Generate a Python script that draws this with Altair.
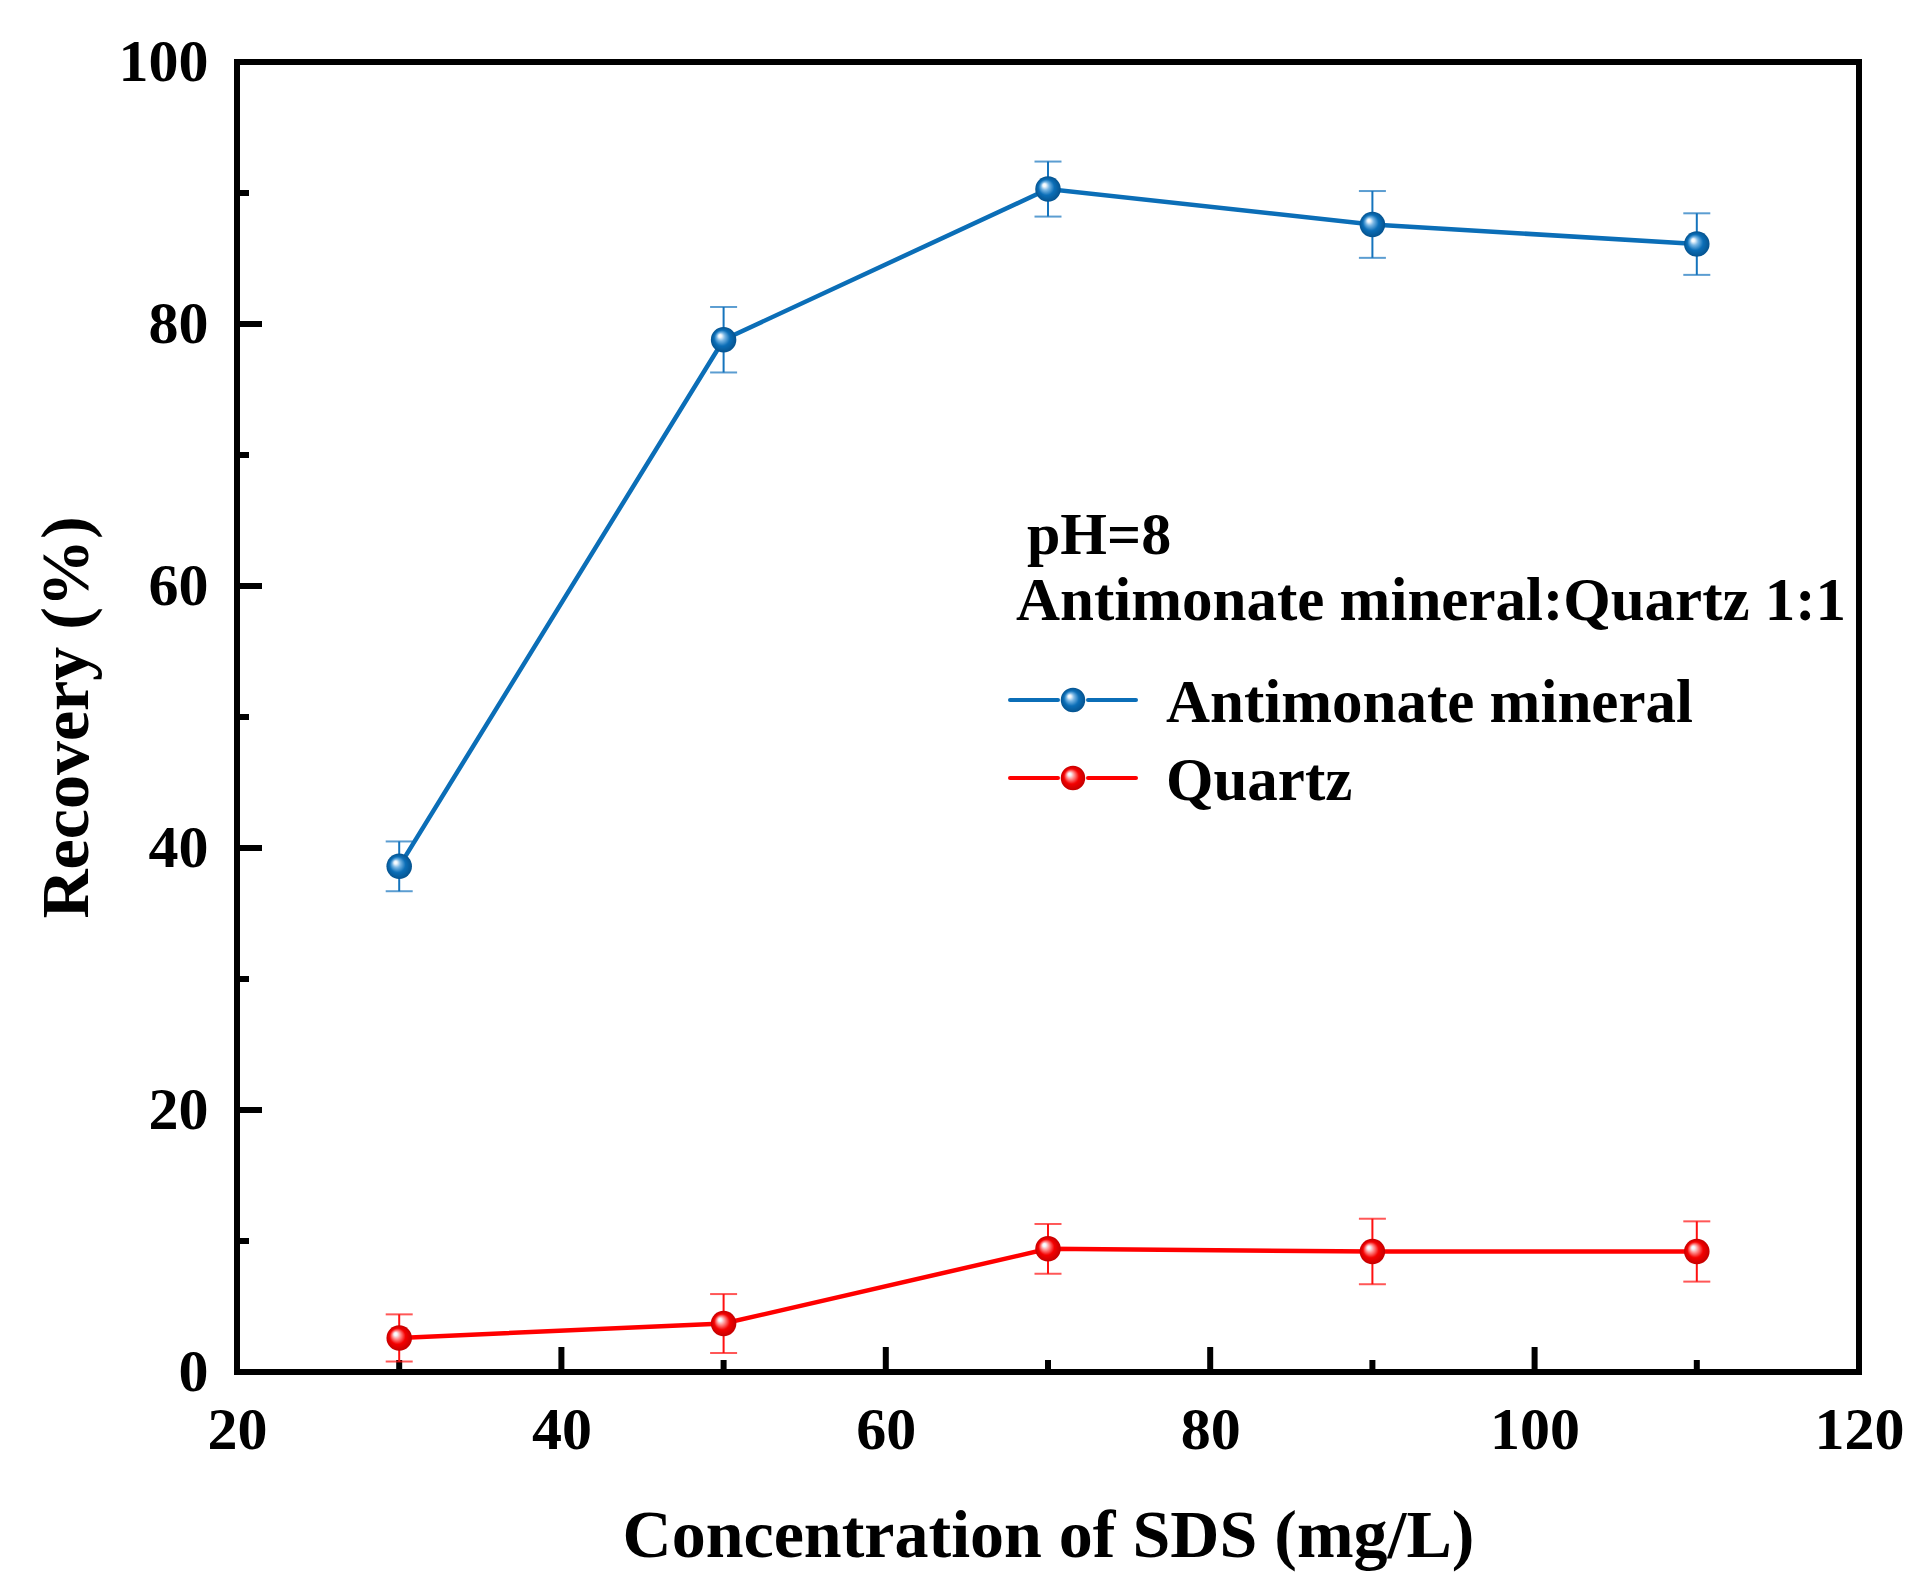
import altair as alt
import pandas as pd

# ---- data ----
X = [30, 50, 70, 90, 110]
ANT = [38.6, 78.8, 90.3, 87.6, 86.1]
ANT_ERR = [1.9, 2.5, 2.1, 2.55, 2.35]
QTZ = [2.6, 3.7, 9.4, 9.2, 9.2]
QTZ_ERR = [1.8, 2.25, 1.9, 2.5, 2.3]
SERIES = ["Antimonate mineral", "Quartz"]
ANNOT = ["pH=8", "Antimonate mineral:Quartz 1:1"]
X_TICKS = [20, 40, 60, 80, 100, 120]
X_MINOR = [30, 50, 70, 90, 110]
Y_TICKS = [0, 20, 40, 60, 80, 100]
Y_MINOR = [10, 30, 50, 70, 90]
X_TITLE = "Concentration of SDS (mg/L)"
Y_TITLE = "Recovery (%)"

W, H = 1622, 1310
FONT = "Liberation Serif"

df = pd.DataFrame({
    "x": X + X,
    "y": ANT + QTZ,
    "err": ANT_ERR + QTZ_ERR,
    "series": [SERIES[0]] * len(X) + [SERIES[1]] * len(X),
})

xs = alt.Scale(domain=[20, 120], nice=False, zero=False)
ys = alt.Scale(domain=[0, 100], nice=False, zero=False)

xaxis = alt.Axis(values=X_TICKS, domain=False, ticks=False, tickSize=0, grid=False,
                 labelFont=FONT, labelFontSize=60, labelFontWeight="bold", labelColor="black",
                 labelPadding=76, labelBaseline="alphabetic", labelFlush=False, labelOverlap=False,
                 title=X_TITLE, titleFont=FONT, titleFontSize=68, titleFontWeight="bold",
                 titleColor="black", titleX=W / 2, titleY=184, titleBaseline="alphabetic",
                 titleAlign="center")
yaxis = alt.Axis(values=Y_TICKS, domain=False, ticks=False, tickSize=0, grid=False,
                 labelFont=FONT, labelFontSize=60, labelFontWeight="bold", labelColor="black",
                 labelPadding=29, labelBaseline="middle", labelFlush=False, labelOverlap=False,
                 title=Y_TITLE, titleFont=FONT, titleFontSize=68, titleFontWeight="bold",
                 titleColor="black", titleX=-150, titleY=H / 2, titleAngle=270,
                 titleBaseline="alphabetic", titleAlign="center")


def xenc(field="x"):
    return alt.X(f"{field}:Q", scale=xs, axis=xaxis)


def yenc(field="y"):
    return alt.Y(f"{field}:Q", scale=ys, axis=yaxis)


def grad(light, base, dark):
    return {"gradient": "radial", "x1": 0.34, "y1": 0.33, "r1": 0.0,
            "x2": 0.5, "y2": 0.5, "r2": 0.5,
            "stops": [{"offset": 0.0, "color": "#ffffff"},
                      {"offset": 0.12, "color": "#f4f9fd"},
                      {"offset": 0.32, "color": light},
                      {"offset": 0.62, "color": base},
                      {"offset": 1.0, "color": dark}]}


STYLE = {
    SERIES[0]: dict(line="#0B6EB7", err="#1574BD", g=grad("#78b6e4", "#0B6EB7", "#05538f")),
    SERIES[1]: dict(line="#FF0000", err="#FF1010", g=grad("#ff9090", "#F40000", "#c40000")),
}

# ---- inward ticks ----
ytick_major = alt.Chart(pd.DataFrame({"v": Y_TICKS})).mark_rule(color="black", strokeWidth=6).encode(
    y=yenc("v"), x=alt.value(0), x2=alt.value(25))
ytick_minor = alt.Chart(pd.DataFrame({"v": Y_MINOR})).mark_rule(color="black", strokeWidth=6).encode(
    y=yenc("v"), x=alt.value(0), x2=alt.value(12))
xtick_major = alt.Chart(pd.DataFrame({"v": X_TICKS})).mark_rule(color="black", strokeWidth=6).encode(
    x=xenc("v"), y=alt.value(H), y2=alt.value(H - 25))
xtick_minor = alt.Chart(pd.DataFrame({"v": X_MINOR})).mark_rule(color="black", strokeWidth=6).encode(
    x=xenc("v"), y=alt.value(H), y2=alt.value(H - 12))

layers = [ytick_major, ytick_minor, xtick_major, xtick_minor]

for s in SERIES:
    st = STYLE[s]
    base = alt.Chart(df).transform_filter(alt.datum.series == s).transform_calculate(
        lo="datum.y - datum.err", hi="datum.y + datum.err")
    err = base.mark_rule(color=st["err"], strokeWidth=2).encode(
        x=xenc(), y=yenc("lo"), y2="hi:Q")
    cap_lo = base.mark_tick(color=st["err"], orient="horizontal", size=27, thickness=2).encode(
        x=xenc(), y=yenc("lo"))
    cap_hi = base.mark_tick(color=st["err"], orient="horizontal", size=27, thickness=2).encode(
        x=xenc(), y=yenc("hi"))
    line = base.mark_line(color=st["line"], strokeWidth=4.5).encode(
        x=xenc(), y=yenc(), order="x:Q")
    pts = base.mark_point(shape="circle", filled=True, size=650, fill=st["g"],
                          strokeWidth=0, opacity=1).encode(x=xenc(), y=yenc())
    layers += [err, cap_lo, cap_hi, line, pts]

# ---- annotation text and legend ----
ann_df = pd.DataFrame({"label": ANNOT})
ann1 = alt.Chart(ann_df).transform_filter(alt.datum.label == ANNOT[0]).mark_text(
    font=FONT, fontSize=60, fontWeight="bold", color="black", align="left", baseline="alphabetic").encode(
    text="label:N", x=alt.value(790), y=alt.value(492))
ann2 = alt.Chart(ann_df).transform_filter(alt.datum.label == ANNOT[1]).mark_text(
    font=FONT, fontSize=61, fontWeight="bold", color="black", align="left", baseline="alphabetic").encode(
    text="label:N", x=alt.value(779), y=alt.value(558))
layers += [ann1, ann2]

leg_df = pd.DataFrame({"series": SERIES})
for i, s in enumerate(SERIES):
    st = STYLE[s]
    ly = 638 + i * 78
    src = alt.Chart(leg_df).transform_filter(alt.datum.series == s)
    seg1 = src.mark_rule(color=st["line"], strokeWidth=4, strokeCap="round").encode(
        x=alt.value(773), x2=alt.value(821), y=alt.value(ly))
    seg2 = src.mark_rule(color=st["line"], strokeWidth=4, strokeCap="round").encode(
        x=alt.value(851), x2=alt.value(899), y=alt.value(ly))
    mk = src.mark_point(shape="circle", filled=True, size=600, fill=st["g"],
                        strokeWidth=0, opacity=1).encode(x=alt.value(836), y=alt.value(ly))
    tx = src.mark_text(font=FONT, fontSize=61, fontWeight="bold", color="black",
                       align="left", baseline="alphabetic").encode(
        text="series:N", x=alt.value(929), y=alt.value(ly + 22))
    layers += [seg1, seg2, mk, tx]

chart = alt.layer(*layers).properties(
    width=W, height=H,
    autosize=alt.AutoSizeParams(type="none"),
    padding={"left": 229, "top": 54, "right": 61, "bottom": 211},
    background="white",
).configure_view(stroke="black", strokeWidth=6).configure_axis(grid=False)

chart.save("out.html", embed_options={"renderer": "svg", "actions": False})
